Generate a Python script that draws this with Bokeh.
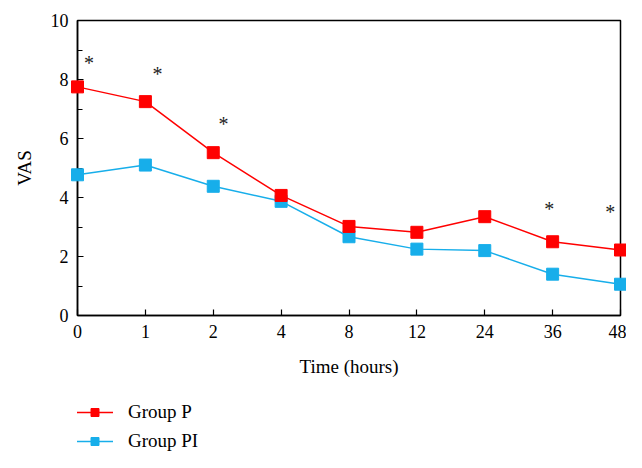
from bokeh.plotting import figure
from bokeh.layouts import column
from bokeh.models import (Range1d, FixedTicker, SingleIntervalTicker, Legend, LegendItem,
                          ColumnDataSource)
from bokeh.embed import file_html
from bokeh.resources import INLINE
from bokeh.core.properties import value

# ---- data ----
time_labels = ["0", "1", "2", "4", "8", "12", "24", "36", "48"]
group_p = [7.75, 7.25, 5.52, 4.07, 3.02, 2.82, 3.35, 2.5, 2.22]
group_pi = [4.77, 5.1, 4.38, 3.87, 2.67, 2.25, 2.2, 1.4, 1.06]
series_names = ["Group P", "Group PI"]
# significance markers (x index, y position)
star_x = [0.17, 1.18, 2.15, 6.95, 7.85]
star_y = [8.55, 8.2, 6.5, 3.6, 3.5]

FONT = "Liberation Serif"
RED = "#FF0000"
BLUE = "#17AEEA"

x_idx = list(range(len(time_labels)))

p = figure(width=626, height=382, output_backend="svg", toolbar_location=None,
           x_range=Range1d(0, len(time_labels) - 1), y_range=Range1d(0, 10))
p.min_border_left = 77
p.min_border_right = 6
p.min_border_top = 20
p.min_border_bottom = 67
p.grid.visible = False
p.outline_line_color = "black"
p.outline_line_width = 1.5
p.background_fill_color = "white"
p.border_fill_color = "white"

# axes
p.xaxis.ticker = FixedTicker(ticks=x_idx)
p.xaxis.major_label_overrides = {i: t for i, t in enumerate(time_labels)}
p.yaxis.ticker = SingleIntervalTicker(interval=2, num_minor_ticks=2)
for ax in (p.xaxis[0], p.yaxis[0]):
    ax.axis_line_color = "black"
    ax.axis_line_width = 1.5
    ax.major_tick_in = 6
    ax.major_tick_out = 0
    ax.minor_tick_in = 5
    ax.minor_tick_out = 0
    ax.major_tick_line_width = 1.2
    ax.minor_tick_line_width = 1.2
    ax.major_label_text_font = FONT
    ax.major_label_text_font_size = "18px"
    ax.major_label_text_color = "black"
    ax.axis_label_text_font = FONT
    ax.axis_label_text_font_size = "19px"
    ax.axis_label_text_font_style = "normal"
    ax.axis_label_text_color = "black"
p.xaxis.minor_tick_line_color = None
p.xaxis.axis_label = "Time (hours)"
p.yaxis.axis_label = "VAS"
p.xaxis.major_label_standoff = 9
p.yaxis.major_label_standoff = 9
p.xaxis.axis_label_standoff = 15
p.yaxis.axis_label_standoff = 13

src = ColumnDataSource(dict(x=x_idx, p=group_p, pi=group_pi))
p.line("x", "pi", source=src, line_color=BLUE, line_width=1.5, level="overlay")
p.scatter("x", "pi", source=src, marker="square", size=12, fill_color=BLUE,
          line_color=BLUE, level="overlay")
p.line("x", "p", source=src, line_color=RED, line_width=1.5, level="overlay")
p.scatter("x", "p", source=src, marker="square", size=12, fill_color=RED,
          line_color=RED, level="overlay")

p.text(x=star_x, y=star_y, text=["*"] * len(star_x), text_font=value(FONT),
       text_font_size="20px", text_align="center", text_baseline="middle",
       text_color="#222222", level="overlay")

# ---- legend panel (separate figure below the chart) ----
lg = figure(width=626, height=70, output_backend="svg", toolbar_location=None,
            x_range=Range1d(100, 101), y_range=Range1d(100, 101))
lg.axis.visible = False
lg.grid.visible = False
lg.outline_line_color = None
lg.min_border_left = 77
lg.min_border_right = 6
lg.min_border_top = 0
lg.min_border_bottom = 0
items = []
for name, col, key in zip(series_names, [RED, BLUE], ["p", "pi"]):
    r1 = lg.line("x", key, source=src, line_color=col, line_width=1.5)
    r2 = lg.scatter("x", key, source=src, marker="square", size=10,
                    fill_color=col, line_color=col)
    items.append(LegendItem(label=name, renderers=[r1, r2]))

legend = Legend(items=items, location=(-1, 0), padding=0, margin=0, spacing=7,
                glyph_width=37, glyph_height=20, label_standoff=15,
                label_text_font=FONT, label_text_font_size="19px",
                label_text_color="black",
                border_line_color=None, background_fill_alpha=0)
lg.add_layout(legend, "center")

layout = column(p, lg, spacing=0)
open("out.html", "w").write(file_html(layout, INLINE))
